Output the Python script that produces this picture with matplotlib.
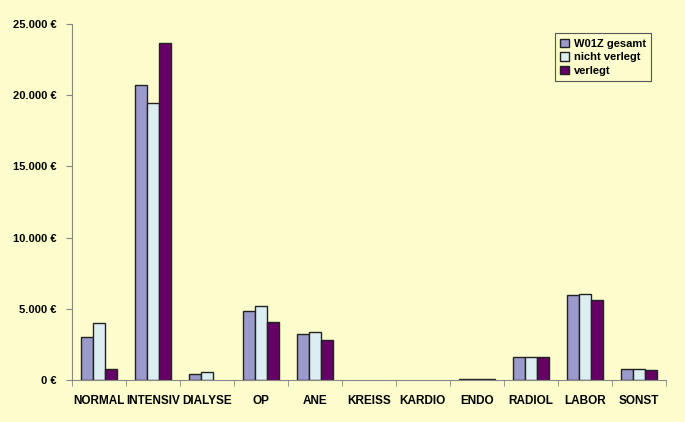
import matplotlib
matplotlib.use("Agg")
import numpy as np
import matplotlib.pyplot as plt
from matplotlib.ticker import FuncFormatter

categories = ["NORMAL", "INTENSIV", "DIALYSE", "OP", "ANE", "KREISS",
              "KARDIO", "ENDO", "RADIOL", "LABOR", "SONST"]
gesamt = [3020, 20750, 400, 4820, 3210, 0, 0, 50, 1640, 5950, 750]
nicht_verlegt = [3980, 19450, 580, 5220, 3400, 0, 0, 50, 1640, 6060, 800]
verlegt = [770, 23650, 0, 4050, 2830, 0, 0, 50, 1640, 5620, 680]
series_names = ["W01Z gesamt", "nicht verlegt", "verlegt"]

BG = "#FCFCCC"
colors = ["#9A9ACC", "#DDEEF2", "#660066"]

plt.rcParams.update({"font.family": "Liberation Sans", "font.weight": "bold"})

fig = plt.figure(figsize=(6.85, 4.22), dpi=100, facecolor=BG)
ax = fig.add_axes([0.105, 0.0995, 0.867, 0.8435], facecolor=BG)

x = np.arange(len(categories))
w = 0.222
for i, (vals, name, c) in enumerate(zip([gesamt, nicht_verlegt, verlegt], series_names, colors)):
    lw = [1.0 if v > 0 else 0 for v in vals]
    ax.bar(x + (i - 1) * w, vals, width=w, color=c, edgecolor="#222222",
           linewidth=lw, label=name)

ax.set_xlim(-0.5, len(categories) - 0.5)
ax.set_ylim(0, 25000)
ax.set_yticks(np.arange(0, 25001, 5000))
ax.yaxis.set_major_formatter(FuncFormatter(
    lambda v, p: f"{int(v):,} €".replace(",", ".")))
ax.set_xticks(x)
ax.set_xticklabels(categories)
ax.set_xticks(np.arange(-0.5, len(categories)), minor=True)
ax.tick_params(axis="x", which="major", length=0, pad=11, labelsize=8.5)
ax.tick_params(axis="x", which="minor", length=4, color="#888888")
ax.tick_params(axis="y", length=4, color="#888888", labelsize=8, pad=7)

for s in ["top", "right"]:
    ax.spines[s].set_visible(False)
for s in ["left", "bottom"]:
    ax.spines[s].set_color("#888888")

leg = ax.legend(loc="upper right", bbox_to_anchor=(0.985, 0.99), fontsize=8,
                frameon=True, fancybox=False, facecolor=BG, edgecolor="#555555",
                handlelength=0.8, handleheight=0.8, handletextpad=0.4,
                labelspacing=0.3, borderpad=0.5)
leg.get_frame().set_linewidth(0.8)
leg.get_frame().set_alpha(1)

fig.savefig("out.png", dpi=100, facecolor=BG)
